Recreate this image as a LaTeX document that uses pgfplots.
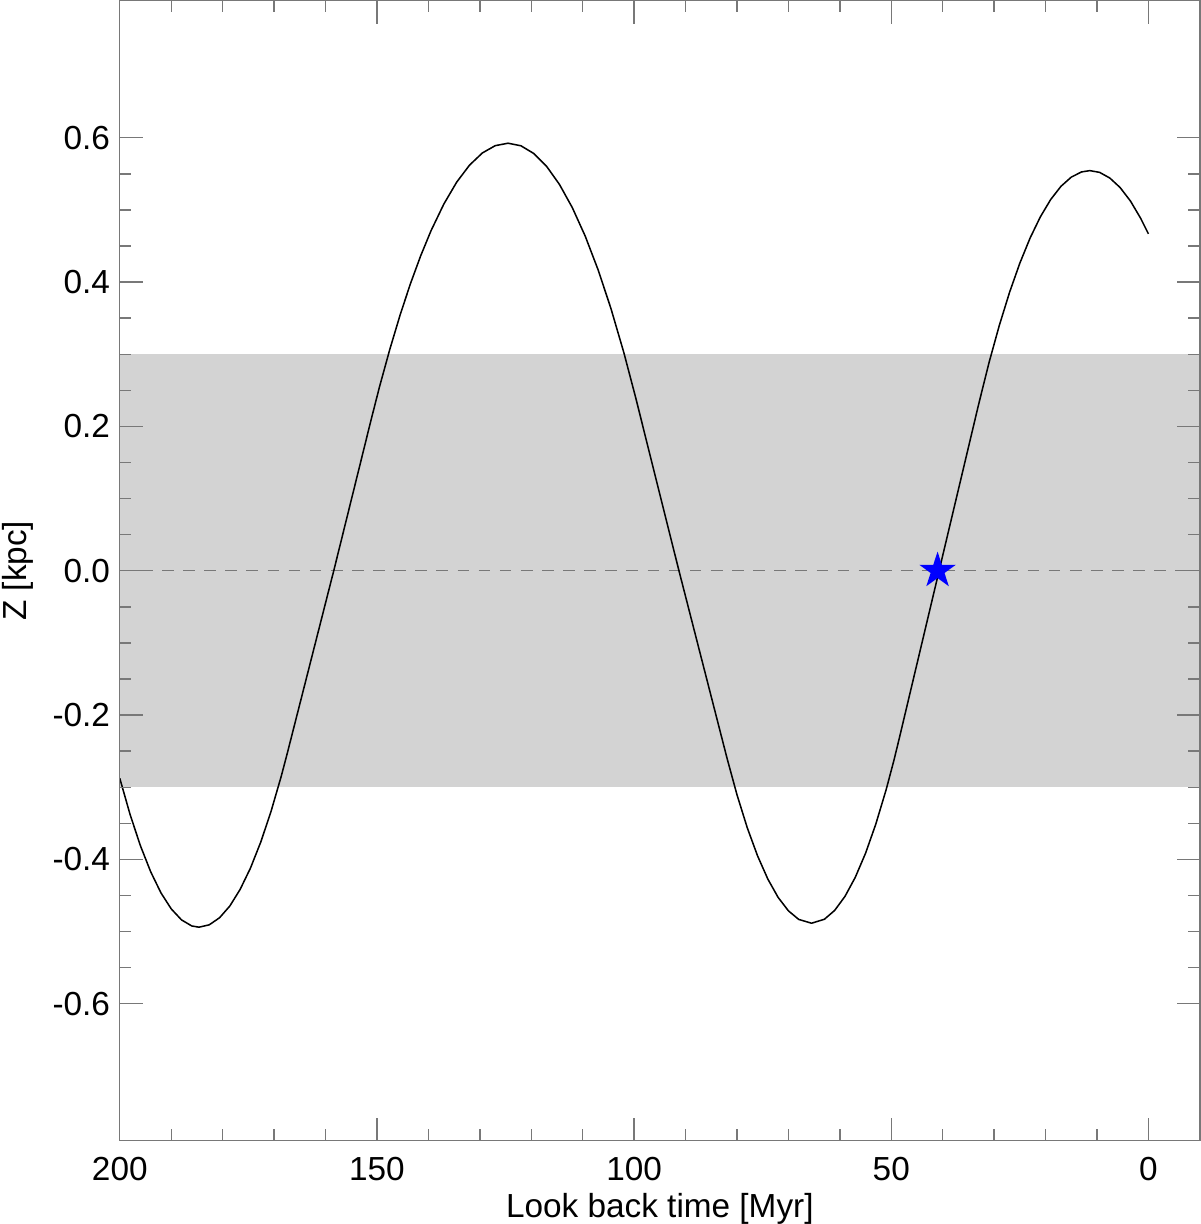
\documentclass[border=0pt]{standalone}
\usepackage{fontspec}
\setmainfont{Liberation Sans}
\usepackage{pgfplots}
\pgfplotsset{compat=1.18}
\definecolor{bandgray}{RGB}{211,211,211}
\definecolor{axgray}{RGB}{120,120,120}
\pgfdeclareplotmark{fstar}{%
  \pgfpathmoveto{\pgfpointpolar{90}{\pgfplotmarksize}}%
  \pgfpathlineto{\pgfpointpolar{126}{0.382\pgfplotmarksize}}%
  \pgfpathlineto{\pgfpointpolar{162}{\pgfplotmarksize}}%
  \pgfpathlineto{\pgfpointpolar{198}{0.382\pgfplotmarksize}}%
  \pgfpathlineto{\pgfpointpolar{234}{\pgfplotmarksize}}%
  \pgfpathlineto{\pgfpointpolar{270}{0.382\pgfplotmarksize}}%
  \pgfpathlineto{\pgfpointpolar{306}{\pgfplotmarksize}}%
  \pgfpathlineto{\pgfpointpolar{342}{0.382\pgfplotmarksize}}%
  \pgfpathlineto{\pgfpointpolar{18}{\pgfplotmarksize}}%
  \pgfpathlineto{\pgfpointpolar{54}{0.382\pgfplotmarksize}}%
  \pgfpathclose
  \pgfusepathqfill
}
\begin{document}
\begin{tikzpicture}
\begin{axis}[
  scale only axis,
  width=388.8pt, height=410.4pt,
  x dir=reverse,
  xmin=-10, xmax=200,
  ymin=-0.79, ymax=0.79,
  xtick={0,50,100,150,200},
  minor x tick num=4,
  ytick={-0.6,-0.4,-0.2,0,0.2,0.4,0.6},
  yticklabels={-0.6,-0.4,-0.2,0.0,0.2,0.4,0.6},
  minor y tick num=3,
  major tick length=8.3pt,
  minor tick length=4.1pt,
  tick style={axgray, line width=0.5pt},
  axis line style={axgray, line width=0.5pt},
  axis on top,
  /pgf/number format/assume math mode=true,
  tick label style={font=\fontsize{12}{14}\selectfont},
  label style={font=\fontsize{12}{14}\selectfont},
  xticklabel style={yshift=-2.5pt},
  xlabel={Look back time [Myr]},
  ylabel={Z [kpc]},
  xlabel style={inner sep=0pt, text depth=2.5pt, yshift=-0.7pt},
  ylabel style={inner sep=0pt, inner ysep=0.7pt, yshift=2.8pt},
]
\addplot[fill=bandgray, draw=none] coordinates {(-10,-0.3) (200,-0.3) (200,0.3) (-10,0.3)} -- cycle;
\addplot[axgray, line width=0.45pt, dash pattern=on 4.2pt off 3.4pt] coordinates {(200,0) (-10,0)};
\addplot[black, line width=0.55pt, line join=round] table {
x y
200.00 -0.2877
198.00 -0.3378
196.00 -0.3809
194.00 -0.4171
192.00 -0.4464
190.00 -0.4686
188.00 -0.4839
186.00 -0.4923
184.60 -0.4940
182.60 -0.4907
180.60 -0.4809
178.60 -0.4646
176.60 -0.4416
174.60 -0.4122
172.60 -0.3762
170.60 -0.3337
168.60 -0.2846
167.49 -0.2545
164.00 -0.1568
161.00 -0.0728
158.40 0.0000
156.00 0.0691
153.50 0.1411
151.19 0.2077
149.50 0.2550
147.50 0.3068
145.50 0.3544
143.50 0.3976
141.50 0.4364
139.50 0.4710
137.00 0.5081
134.50 0.5385
132.00 0.5621
129.50 0.5790
127.00 0.5891
124.50 0.5925
122.00 0.5889
119.50 0.5782
117.00 0.5603
114.50 0.5352
112.00 0.5030
109.50 0.4636
107.00 0.4170
104.50 0.3633
102.00 0.3024
99.64 0.2384
97.00 0.1630
94.00 0.0775
91.28 0.0000
88.50 -0.0773
85.00 -0.1746
81.92 -0.2602
80.00 -0.3104
78.00 -0.3562
76.00 -0.3951
74.00 -0.4273
72.00 -0.4527
70.00 -0.4713
68.00 -0.4832
65.50 -0.4885
63.00 -0.4830
61.00 -0.4707
59.00 -0.4513
57.00 -0.4249
55.00 -0.3915
53.00 -0.3510
51.00 -0.3035
49.50 -0.2632
48.44 -0.2322
45.50 -0.1440
43.00 -0.0690
40.70 0.0000
38.00 0.0810
35.50 0.1560
33.03 0.2301
31.00 0.2883
29.00 0.3398
27.00 0.3859
25.00 0.4263
23.00 0.4612
21.00 0.4906
19.00 0.5145
17.00 0.5328
15.00 0.5455
13.00 0.5527
11.40 0.5545
9.50 0.5521
7.50 0.5442
5.50 0.5310
3.50 0.5124
1.50 0.4883
0.00 0.4668
};
\addplot[only marks, mark=fstar, mark size=6.9pt, blue] coordinates {(41.0,0.0)};
\end{axis}
\end{tikzpicture}
\end{document}
